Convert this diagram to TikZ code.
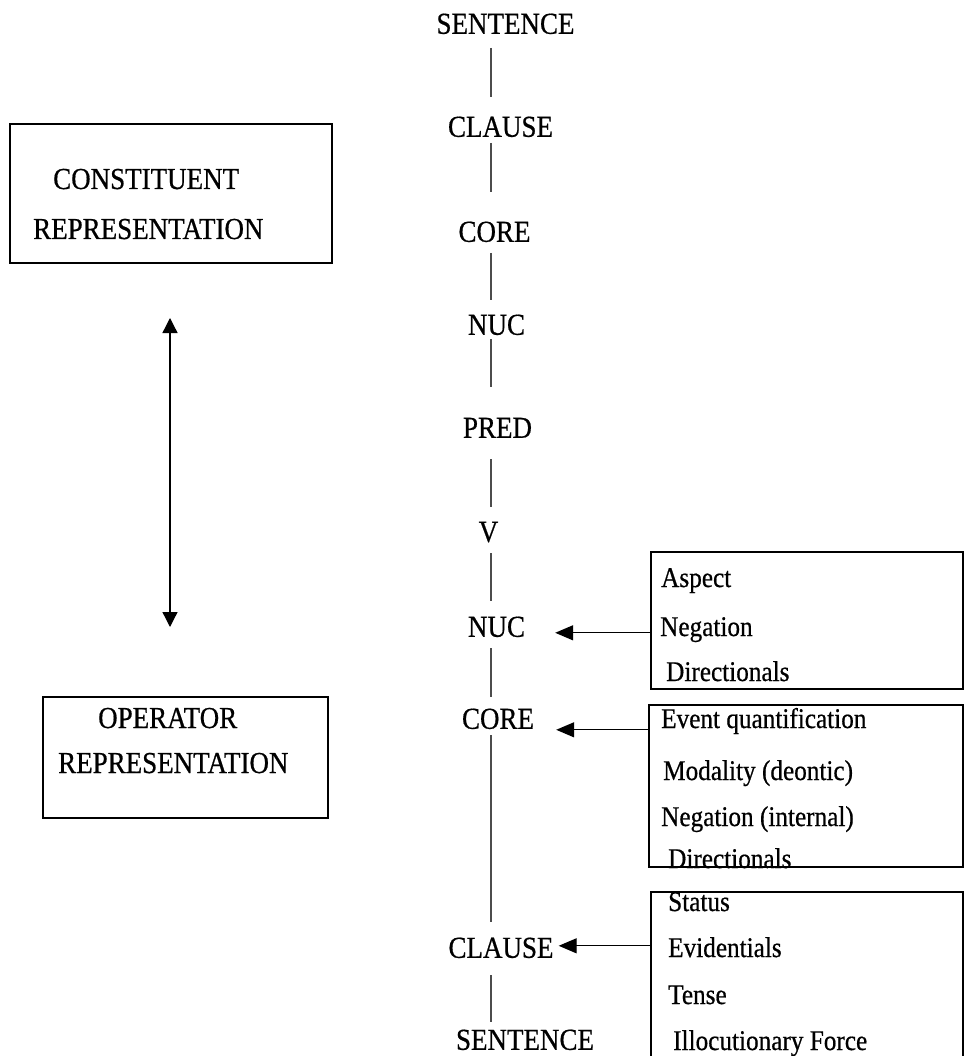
\documentclass[tikz,border=0pt]{standalone}
\usepackage{fontspec}
\setmainfont{Liberation Serif}[FakeStretch=0.885,FakeBold=0.6]
\usetikzlibrary{arrows.meta}
\begin{document}
\begin{tikzpicture}[x=1pt,y=-1pt,
  lvl/.style={inner sep=0pt, text height=20pt, text depth=0pt, anchor=south,
              font=\fontsize{30.5}{36}\selectfont},
  big/.style={inner sep=0pt, anchor=base west, font=\fontsize{30.5}{36}\selectfont},
  op/.style={inner sep=0pt, anchor=base west, font=\fontsize{28.5}{34}\selectfont},
  frame/.style={draw=black, line width=2pt, inner sep=0pt},
  stem/.style={draw=black!70, line width=1.2pt},
  ptr/.style={draw=black, line width=1.3pt, -{Triangle[length=18pt,width=15pt]}},
  dbl/.style={draw=black, line width=1.3pt,
              {Triangle[length=15pt,width=15pt]}-{Triangle[length=15pt,width=15pt]}}
]
\useasboundingbox (0,0) rectangle (964,1056);
\clip (0,0) rectangle (964,1056);

% vertical guides
\coordinate (col) at (491,0);
\coordinate (ax) at (170,0);

% the layered column
\node[lvl] (s1) at (505.5,34)  {SENTENCE};
\node[lvl] (c1) at (500.5,137) {CLAUSE};
\node[lvl] (k1) at (494.5,242) {CORE};
\node[lvl] (n1) at (496.5,335) {NUC};
\node[lvl] (p)  at (497.5,438) {PRED};
\node[lvl] (v)  at (488.5,542) {V};
\node[lvl] (n2) at (496.5,637) {NUC};
\node[lvl] (k2) at (498,729)   {CORE};
\node[lvl] (c2) at (501,958)   {CLAUSE};
\node[lvl] (s2) at (525,1050)  {SENTENCE};

\draw[stem, shorten <=14pt, shorten >=20pt] (s1.south -| col) -- (c1.north -| col);
\draw[stem, shorten <=6pt,  shorten >=30pt] (c1.south -| col) -- (k1.north -| col);
\draw[stem, shorten <=11pt, shorten >=15pt] (k1.south -| col) -- (n1.north -| col);
\draw[stem, shorten <=4pt,  shorten >=31pt] (n1.south -| col) -- (p.north -| col);
\draw[stem, shorten <=21pt, shorten >=15pt] (p.south -| col)  -- (v.north -| col);
\draw[stem, shorten <=11pt, shorten >=16pt] (v.south -| col)  -- (n2.north -| col);
\draw[stem, shorten <=11pt, shorten >=12pt] (n2.south -| col) -- (k2.north -| col);
\draw[stem, shorten <=6pt,  shorten >=16pt] (k2.south -| col) -- (c2.north -| col);
\draw[stem, shorten <=17pt, shorten >=8pt] (c2.south -| col) -- (s2.north -| col);

% representation boxes on the left
\node[big] (ct1) at (53,189) {CONSTITUENT};
\node[big] (ct2) at (33,239) {REPRESENTATION};
\node[frame, minimum width=322pt, minimum height=139pt] (cb) at (171,193.5) {};

\node[big] (ot1) at (98,728) {OPERATOR};
\node[big] (ot2) at (58,773) {REPRESENTATION};
\node[frame, minimum width=285pt, minimum height=121pt] (ob) at (185.5,757.5) {};

\draw[dbl, shorten <=54pt, shorten >=69pt] (cb.south -| ax) -- (ob.north -| ax);

% nuclear operators
\node[op] (a1) at (661,587) {Aspect};
\node[op] (a2) at (660,636) {Negation};
\node[op] (a3) at (666,681) {Directionals};
\node[frame, minimum width=312pt, minimum height=137pt] (b1) at (807,620.5) {};

% core operators
\node[op] (e1) at (661,728) {Event quantification};
\node[op] (e2) at (663,780) {Modality (deontic)};
\node[op] (e3) at (661,826) {Negation (internal)};
\node[op] (e4) at (668,868) {Directionals};
\node[frame, minimum width=314pt, minimum height=162pt] (b2) at (806,786) {};

% clausal operators
\node[op] (f1) at (668,911)  {Status};
\node[op] (f2) at (668,957)  {Evidentials};
\node[op] (f3) at (668,1004) {Tense};
\node[op] (f4) at (673,1050) {Illocutionary Force};
\node[frame, minimum width=312pt, minimum height=178pt] (b3) at (807,981) {};

% operator links into the column
\coordinate (t1) at ([xshift=30pt,yshift=-6pt]n2.east);
\coordinate (t2) at ([xshift=22pt,yshift=-11pt]k2.east);
\coordinate (t3) at ([xshift=5pt,yshift=2pt]c2.east);
\draw[ptr] (b1.west |- t1) -- (t1);
\draw[ptr] (b2.west |- t2) -- (t2);
\draw[ptr] (b3.west |- t3) -- (t3);
\end{tikzpicture}
\end{document}
